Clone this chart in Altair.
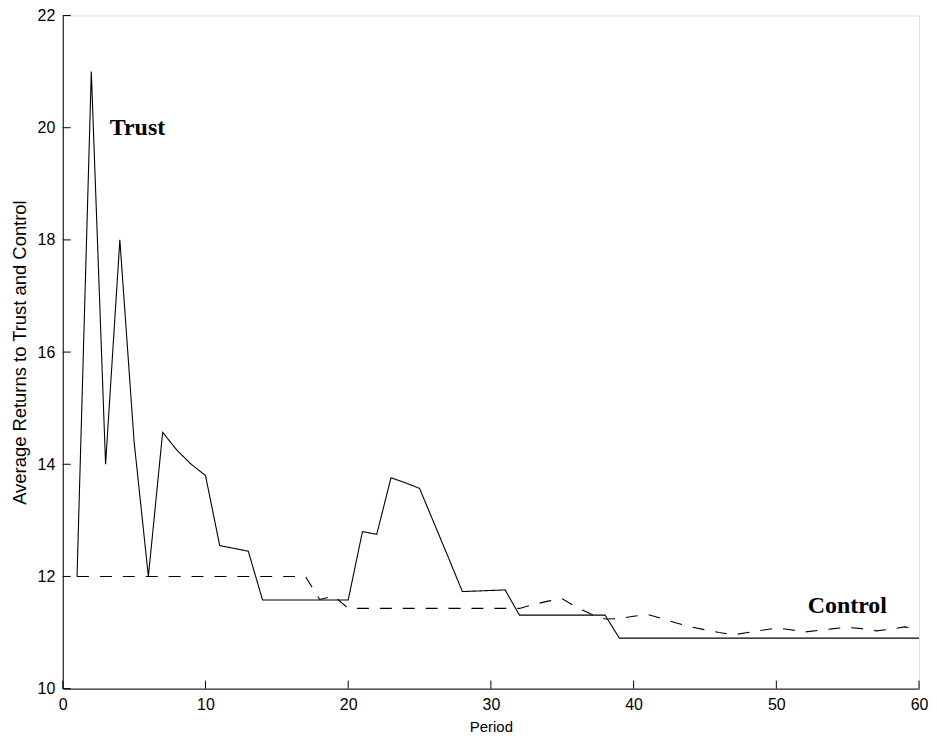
import altair as alt
import pandas as pd

periods = list(range(1, 61))
trust = [12.0, 21.0, 14.0, 18.0, 14.4, 12.0, 14.57, 14.25, 14.0, 13.8,
         12.55, 12.5, 12.45, 11.58, 11.58, 11.58, 11.58, 11.58, 11.58, 11.58,
         12.8, 12.75, 13.76, 13.67, 13.57, 12.96, 12.35, 11.73, 11.74, 11.75,
         11.76, 11.31, 11.31, 11.31, 11.31, 11.31, 11.31, 11.31, 10.9, 10.9,
         10.9, 10.9, 10.9, 10.9, 10.9, 10.9, 10.9, 10.9, 10.9, 10.9,
         10.9, 10.9, 10.9, 10.9, 10.9, 10.9, 10.9, 10.9, 10.9, 10.9]
control = [12.0, 12.0, 12.0, 12.0, 12.0, 12.0, 12.0, 12.0, 12.0, 12.0,
           12.0, 12.0, 12.0, 12.0, 12.0, 12.0, 12.0, 11.59, 11.65, 11.43,
           11.43, 11.43, 11.43, 11.43, 11.43, 11.43, 11.43, 11.43, 11.43, 11.43,
           11.43, 11.43, 11.5, 11.56, 11.6, 11.45, 11.33, 11.24, 11.25, 11.29,
           11.32, 11.25, 11.17, 11.1, 11.05, 11.0, 10.96, 11.0, 11.04, 11.08,
           11.05, 11.01, 11.04, 11.07, 11.09, 11.07, 11.03, 11.06, 11.1, 11.06]
series_names = ["Trust", "Control"]
x_ticks = [0, 10, 20, 30, 40, 50, 60]
y_ticks = [10, 12, 14, 16, 18, 20, 22]
label_text = ["Trust", "Control"]
label_x = [3.3, 52.2]
label_y = [20.0, 11.48]

df = pd.DataFrame({"Period": periods, "Trust": trust, "Control": control})
long = df.melt("Period", var_name="Series", value_name="Value")

W, H = 860, 676
TICK = 8
xs = alt.Scale(domain=[0, 60], nice=False, zero=False)
ys = alt.Scale(domain=[10, 22], nice=False, zero=False)

x_axis = alt.Axis(values=x_ticks, title="Period", tickSize=0, grid=False,
                  labelPadding=8, titlePadding=7, labelFontSize=16, titleFontSize=15,
                  labelFont="Liberation Sans", titleFont="Liberation Sans",
                  titleFontWeight="normal", domainColor="black", labelColor="black",
                  titleColor="black", labelFlush=False)
y_axis = alt.Axis(values=y_ticks, title="Average Returns to Trust and Control", tickSize=0,
                  grid=False, labelPadding=8, titlePadding=8, labelFontSize=16,
                  titleFontSize=18.5, labelFont="Liberation Sans", titleFont="Liberation Sans",
                  titleFontWeight="normal", domainColor="black", labelColor="black",
                  titleColor="black", labelFlush=False)

lines = alt.Chart(long).mark_line(color="black", strokeWidth=1.1).encode(
    x=alt.X("Period:Q", scale=xs, axis=x_axis),
    y=alt.Y("Value:Q", scale=ys, axis=y_axis),
    strokeDash=alt.StrokeDash("Series:N",
                              scale=alt.Scale(domain=series_names, range=[[1, 0], [12, 11]]),
                              legend=None),
    detail="Series:N",
)

xt = alt.Chart(pd.DataFrame({"Period": x_ticks})).mark_rule(color="black", strokeWidth=1).encode(
    x=alt.X("Period:Q", scale=xs, axis=x_axis),
    y=alt.value(H),
    y2=alt.value(H - TICK),
)
yt = alt.Chart(pd.DataFrame({"Value": y_ticks})).mark_rule(color="black", strokeWidth=1).encode(
    y=alt.Y("Value:Q", scale=ys, axis=y_axis),
    x=alt.value(0),
    x2=alt.value(TICK),
)

labels = alt.Chart(pd.DataFrame({"Period": label_x, "Value": label_y, "text": label_text})).mark_text(
    align="left", baseline="middle", font="Liberation Serif", fontWeight="bold",
    fontSize=24, color="black"
).encode(
    x=alt.X("Period:Q", scale=xs, axis=x_axis),
    y=alt.Y("Value:Q", scale=ys, axis=y_axis),
    text="text:N",
)

chart = alt.layer(lines, xt, yt, labels).properties(
    width=W, height=H,
    autosize=alt.AutoSizeParams(type="none"),
    padding={"left": 55, "top": 6, "right": 10, "bottom": 44},
).configure_view(stroke=None).configure(background="white")

chart.save("out.html", embed_options={"renderer": "svg", "actions": False})
